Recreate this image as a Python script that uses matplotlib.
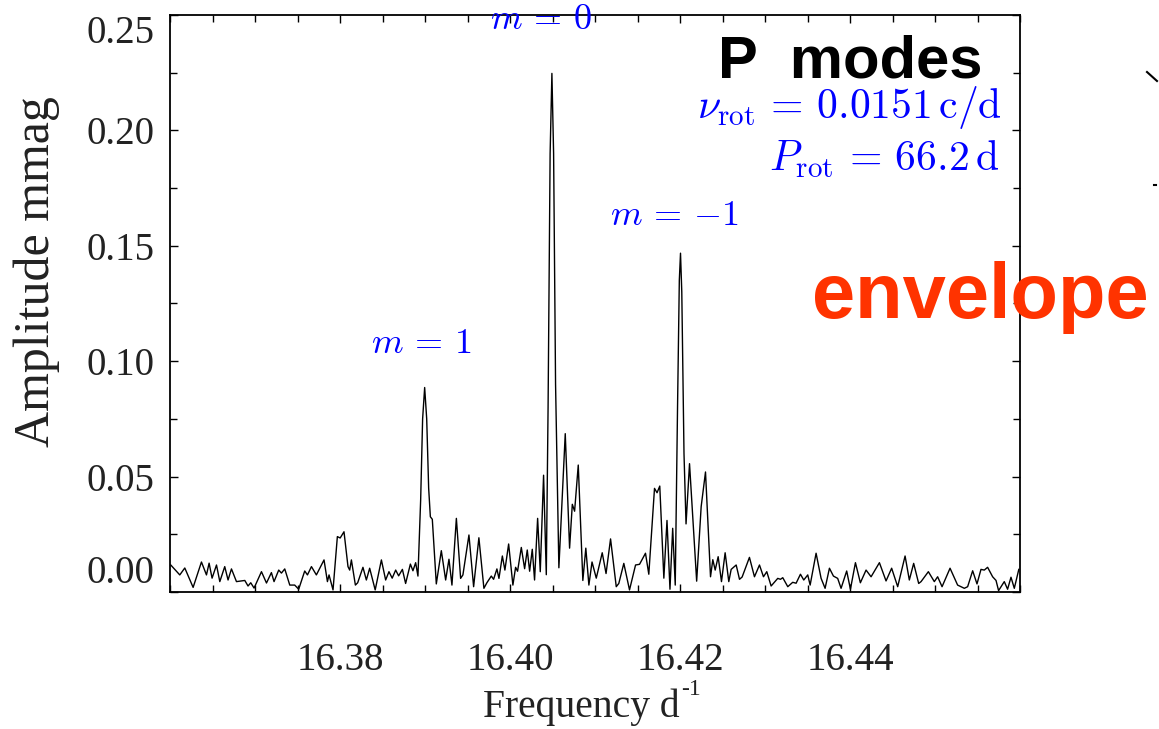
import numpy as np
import matplotlib
matplotlib.use("Agg")
import matplotlib.pyplot as plt
from matplotlib.ticker import MultipleLocator
from matplotlib.lines import Line2D

# === Data (vertices: peaks / troughs) ===
freq = [
    16.36009, 16.36115, 16.36174, 16.36272, 16.36370, 16.36429, 16.36460, 16.36495,
    16.36547, 16.36586, 16.36644, 16.36683, 16.36723, 16.36782, 16.36880, 16.36918,
    16.36950, 16.36989, 16.37076, 16.37135, 16.37193, 16.37224, 16.37279, 16.37311,
    16.37350, 16.37409, 16.37467, 16.37514, 16.37585, 16.37617, 16.37664, 16.37722,
    16.37812, 16.37852, 16.37871, 16.37918, 16.37969, 16.38002, 16.38047, 16.38094,
    16.38114, 16.38134, 16.38181, 16.38208, 16.38270, 16.38310, 16.38349, 16.38414,
    16.38487, 16.38537, 16.38576, 16.38614, 16.38655, 16.38690, 16.38734, 16.38772,
    16.38828, 16.38858, 16.38890, 16.38917, 16.38949, 16.38972, 16.38996, 16.39020,
    16.39043, 16.39063, 16.39086, 16.39133, 16.39192, 16.39243, 16.39282, 16.39317,
    16.39369, 16.39419, 16.39446, 16.39517, 16.39572, 16.39634, 16.39693, 16.39728,
    16.39780, 16.39807, 16.39846, 16.39870, 16.39910, 16.39940, 16.39984, 16.40034,
    16.40066, 16.40089, 16.40133, 16.40172, 16.40203, 16.40231, 16.40262, 16.40289,
    16.40325, 16.40356, 16.40395, 16.40427, 16.40448, 16.40472, 16.40493, 16.40513,
    16.40536, 16.40575, 16.40650, 16.40701, 16.40733, 16.40760, 16.40803, 16.40857,
    16.40892, 16.40928, 16.40965, 16.41015, 16.41085, 16.41130, 16.41183, 16.41250,
    16.41280, 16.41339, 16.41406, 16.41477, 16.41524, 16.41594, 16.41633, 16.41700,
    16.41730, 16.41762, 16.41810, 16.41847, 16.41882, 16.41914, 16.41944, 16.41971,
    16.41992, 16.42006, 16.42021, 16.42047, 16.42071, 16.42112, 16.42196, 16.42249,
    16.42300, 16.42359, 16.42386, 16.42414, 16.42449, 16.42488, 16.42531, 16.42574,
    16.42602, 16.42661, 16.42700, 16.42731, 16.42817, 16.42876, 16.42935, 16.42982,
    16.43021, 16.43072, 16.43150, 16.43182, 16.43209, 16.43268, 16.43326, 16.43366,
    16.43417, 16.43456, 16.43503, 16.43531, 16.43601, 16.43660, 16.43707, 16.43758,
    16.43805, 16.43855, 16.43895, 16.43961, 16.44005, 16.44064, 16.44122, 16.44189,
    16.44248, 16.44346, 16.44424, 16.44490, 16.44561, 16.44648, 16.44698, 16.44749,
    16.44808, 16.44836, 16.44922, 16.44992, 16.45031, 16.45083, 16.45177, 16.45266,
    16.45345, 16.45384, 16.45443, 16.45494, 16.45541, 16.45580, 16.45619, 16.45678,
    16.45718, 16.45748, 16.45815, 16.45854, 16.45894, 16.45933, 16.45986,
]
amp = [
    0.0117, 0.0074, 0.0104, 0.0020, 0.0130, 0.0074, 0.0125, 0.0060,
    0.0117, 0.0045, 0.0110, 0.0052, 0.0100, 0.0045, 0.0050, 0.0026,
    0.0040, 0.0017, 0.0088, 0.0039, 0.0084, 0.0045, 0.0095, 0.0082,
    0.0100, 0.0030, 0.0030, 0.0012, 0.0091, 0.0074, 0.0110, 0.0074,
    0.0139, 0.0045, 0.0074, 0.0009, 0.0240, 0.0234, 0.0261, 0.0110,
    0.0095, 0.0139, 0.0030, 0.0040, 0.0107, 0.0052, 0.0103, 0.0009,
    0.0139, 0.0052, 0.0088, 0.0060, 0.0095, 0.0070, 0.0098, 0.0037,
    0.0121, 0.0092, 0.0127, 0.0069, 0.0400, 0.0750, 0.0886, 0.0750,
    0.0450, 0.0326, 0.0315, 0.0035, 0.0179, 0.0052, 0.0142, 0.0030,
    0.0319, 0.0059, 0.0074, 0.0247, 0.0023, 0.0235, 0.0016, 0.0040,
    0.0069, 0.0055, 0.0100, 0.0059, 0.0156, 0.0095, 0.0208, 0.0030,
    0.0107, 0.0090, 0.0193, 0.0101, 0.0182, 0.0090, 0.0185, 0.0052,
    0.0319, 0.0088, 0.0506, 0.0075, 0.0800, 0.1900, 0.2247, 0.1900,
    0.0900, 0.0105, 0.0686, 0.0190, 0.0380, 0.0350, 0.0550, 0.0050,
    0.0190, 0.0030, 0.0130, 0.0060, 0.0170, 0.0080, 0.0230, 0.0023,
    0.0037, 0.0124, 0.0009, 0.0117, 0.0120, 0.0168, 0.0077, 0.0449,
    0.0430, 0.0459, 0.0060, 0.0310, 0.0012, 0.0276, 0.0030, 0.0800,
    0.1350, 0.1468, 0.1300, 0.0600, 0.0295, 0.0556, 0.0047, 0.0370,
    0.0520, 0.0066, 0.0140, 0.0095, 0.0153, 0.0045, 0.0170, 0.0045,
    0.0098, 0.0117, 0.0055, 0.0065, 0.0150, 0.0066, 0.0117, 0.0066,
    0.0088, 0.0026, 0.0059, 0.0055, 0.0062, 0.0023, 0.0042, 0.0038,
    0.0077, 0.0052, 0.0074, 0.0030, 0.0168, 0.0059, 0.0016, 0.0103,
    0.0069, 0.0059, 0.0016, 0.0091, 0.0012, 0.0127, 0.0040, 0.0095,
    0.0066, 0.0127, 0.0048, 0.0103, 0.0023, 0.0156, 0.0052, 0.0124,
    0.0037, 0.0045, 0.0088, 0.0045, 0.0066, 0.0023, 0.0103, 0.0030,
    0.0016, 0.0023, 0.0092, 0.0035, 0.0098, 0.0095, 0.0107, 0.0066,
    0.0050, 0.0006, 0.0045, 0.0012, 0.0064, 0.0016, 0.0098,
]

x_ticks = [16.38, 16.40, 16.42, 16.44]
y_ticks = [0.00, 0.05, 0.10, 0.15, 0.20, 0.25]

# mode labels: (text, freq, amp)
mode_labels = [
    (r"$m\,=\,1$", 16.38949, 0.1072),
    (r"$m\,=\,0$", 16.40360, 0.2475),
    (r"$m\,=\,{-1}$", 16.41934, 0.1628),
]

# === Style ===
plt.rcParams['font.family'] = ['Liberation Serif', 'DejaVu Serif']
plt.rcParams['mathtext.fontset'] = 'cm'

W, H = 1159, 729
fig = plt.figure(figsize=(W / 100, H / 100), dpi=100)
ax = fig.add_axes([170 / W, 1 - 592 / H, 850 / W, 577 / H])

ax.plot(freq, amp, color='black', linewidth=1.0)

ax.set_xlim(16.36, 16.46)
ax.set_ylim(0.0, 0.25)
ax.set_xticks(x_ticks)
ax.set_xticklabels([f"{v:.2f}" for v in x_ticks])
ax.set_yticks(y_ticks)
ax.set_yticklabels([f"{v:.2f}" for v in y_ticks])
ax.xaxis.set_minor_locator(MultipleLocator(0.005))
ax.yaxis.set_minor_locator(MultipleLocator(0.025))

ax.tick_params(which='both', direction='in', top=True, right=True, width=1.0,
               colors='black', labelcolor='#222222')
ax.tick_params(which='major', length=6)
ax.tick_params(which='minor', length=5)
ax.tick_params(axis='x', which='major', labelsize=28, pad=36)
ax.tick_params(axis='y', which='major', labelsize=28, pad=11)
for s in ax.spines.values():
    s.set_linewidth(1.3)

ylabs = ax.get_yticklabels()
ylabs[0].set_va('bottom')
ylabs[-1].set_va('top')

# axis titles
fig.text(37 / W, 1 - 272 / H, "Amplitude mmag", rotation=90, fontsize=36,
         ha='center', va='center', color='#222222')
fig.text(483 / W, 1 - 717 / H, "Frequency d", fontsize=28.5,
         ha='left', va='baseline', color='#222222')
fig.text(681 / W, 1 - 695 / H, "-1", fontsize=17,
         ha='left', va='baseline', color='#222222')

# annotations
for txt, fx, fy in mode_labels:
    ax.text(fx, fy, txt, color='blue', fontsize=26, ha='center', va='center',
            clip_on=False)

ax.text(16.45792, 0.2101, r"$\nu_{\rm rot}\,=\,0.0151\,{\rm c/d}$", color='blue',
        fontsize=30, ha='right', va='center')
ax.text(16.45757, 0.1875, r"$P_{\rm rot}\,=\,66.2\,{\rm d}$", color='blue',
        fontsize=30, ha='right', va='center')

fig.text(983 / W, 1 - 77 / H, "P  modes", fontsize=43, fontweight='bold',
         family=['Liberation Sans', 'DejaVu Sans'], ha='right', va='baseline')
fig.text(812 / W, 1 - 318 / H, "envelope", fontsize=56, fontweight='bold',
         family=['Liberation Sans', 'DejaVu Sans'], color='#ff3300',
         ha='left', va='baseline')

# stray marks from the neighbouring panel at the right edge
fig.add_artist(Line2D([1147 / W, 1157 / W], [1 - 72 / H, 1 - 81 / H],
                      color='black', linewidth=1.5))
fig.add_artist(Line2D([1154 / W, 1156 / W], [1 - 185 / H, 1 - 185 / H],
                      color='black', linewidth=1.5))

fig.savefig("out.png", dpi=100)
